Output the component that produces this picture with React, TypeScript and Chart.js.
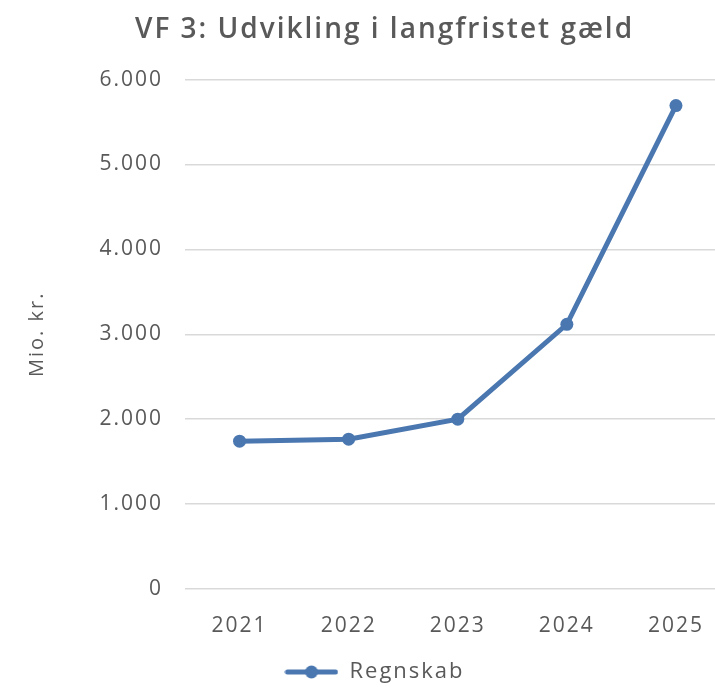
import React, { useEffect, useRef } from 'react';
import { Chart, registerables } from 'chart.js';

Chart.register(...registerables);

const categories = ['2021', '2022', '2023', '2024', '2025'];
const regnskab = [1741, 1765, 2000, 3118, 5694];
const seriesName = 'Regnskab';
const chartTitle = 'VF 3: Udvikling i langfristet gæld';
const yAxisTitle = 'Mio. kr.';
const yMin = 0;
const yMax = 6000;
const yStep = 1000;

const BLUE = '#4a77b0';
const TEXT = '#595959';
const GRID = '#d9d9d9';
const FONT = "'Open Sans', sans-serif";
const SPACING = '2px';

function fmt(v: number): string {
  return String(v).replace(/\B(?=(\d{3})+(?!\d))/g, '.');
}

function makeMarker(): HTMLCanvasElement {
  const c = document.createElement('canvas');
  c.width = 54;
  c.height = 14;
  const x = c.getContext('2d')!;
  x.strokeStyle = BLUE;
  x.lineWidth = 5;
  x.lineCap = 'round';
  x.beginPath();
  x.moveTo(3, 7);
  x.lineTo(51, 7);
  x.stroke();
  x.fillStyle = BLUE;
  x.beginPath();
  x.arc(27, 7, 6.5, 0, Math.PI * 2);
  x.fill();
  return c;
}

const spacingPlugin = {
  id: 'letterSpacing',
  beforeInit(chart: any) {
    chart.ctx.letterSpacing = SPACING;
  },
  beforeUpdate(chart: any) {
    chart.ctx.letterSpacing = SPACING;
  },
  beforeLayout(chart: any) {
    chart.ctx.letterSpacing = SPACING;
  },
  afterLayout(chart: any) {
    if (chart.titleBlock) chart.titleBlock.left += 32;
    if (chart.legend) chart.legend.left += 12;
  },
  beforeDraw(chart: any) {
    chart.ctx.letterSpacing = SPACING;
  },
};

export default function App() {
  const ref = useRef<HTMLCanvasElement | null>(null);

  useEffect(() => {
    if (!ref.current) return;
    const marker = makeMarker();
    const chart = new Chart(ref.current, {
      type: 'line',
      data: {
        labels: categories,
        datasets: [
          {
            label: seriesName,
            data: regnskab,
            borderColor: BLUE,
            backgroundColor: BLUE,
            borderWidth: 5,
            pointRadius: 6.5,
            pointHoverRadius: 6.5,
            pointBackgroundColor: BLUE,
            pointBorderWidth: 0,
            tension: 0,
          },
        ],
      },
      plugins: [spacingPlugin],
      options: {
        animation: false,
        responsive: true,
        maintainAspectRatio: false,
        layout: { padding: { left: 0, right: 0, top: 0, bottom: 0 } },
        plugins: {
          title: {
            display: true,
            text: chartTitle,
            color: TEXT,
            font: { family: FONT, size: 28, weight: '600' },
            padding: { top: 13, bottom: 33 },
          },
          legend: {
            display: true,
            position: 'bottom',
            labels: {
              usePointStyle: true,
              pointStyle: marker as any,
              pointStyleWidth: 54,
              color: TEXT,
              font: { family: FONT, size: 22 },
              padding: 1,
            },
          },
          tooltip: { enabled: false },
        },
        scales: {
          x: {
            offset: true,
            grid: { display: false, drawTicks: false },
            border: { display: false },
            afterFit(scale: any) {
              scale.height -= 2.2;
            },
            ticks: {
              color: TEXT,
              font: { family: FONT, size: 21 },
              padding: 24,
            },
          },
          y: {
            min: yMin,
            max: yMax,
            grid: { color: GRID, lineWidth: 1.5, drawTicks: false },
            border: { display: false },
            afterFit(scale: any) {
              scale.width = 185;
            },
            ticks: {
              stepSize: yStep,
              color: TEXT,
              font: { family: FONT, size: 21 },
              padding: 22,
              callback: (v: any) => fmt(Number(v)),
            },
            title: {
              display: true,
              text: yAxisTitle,
              color: TEXT,
              font: { family: FONT, size: 20 },
              padding: { top: 25, bottom: 0 },
            },
          },
        },
      },
    });
    return () => chart.destroy();
  }, []);

  return (
    <div style={{ position: 'fixed', left: 0, top: 0, width: 737, height: 693, background: '#fff' }}>
      <canvas ref={ref} />
    </div>
  );
}
